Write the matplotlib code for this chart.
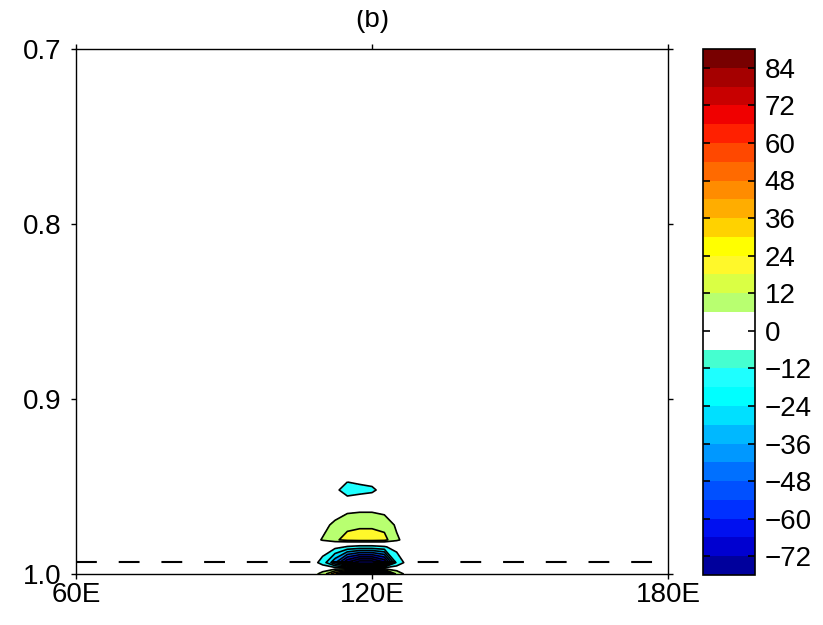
import numpy as np, matplotlib
matplotlib.use("Agg")
import matplotlib.pyplot as plt
from matplotlib.colors import ListedColormap, BoundaryNorm
from matplotlib.cm import ScalarMappable
from matplotlib.transforms import Bbox

plt.rcParams['font.family'] = ['Liberation Sans', 'DejaVu Sans']

# grid (longitude, sigma-like vertical level) and hand-read field values
LON = [105, 107.5, 110, 112.5, 115, 117.5, 120, 122.5, 125, 127.5, 130, 132.5, 135]
LEV = [0.930, 0.944, 0.952, 0.958, 0.964, 0.972, 0.9805, 0.9818, 0.9845, 0.9935, 1.0]
VAL = [
    [0, 0,   0,   0,   0,    0,    0,   0,   0, 0, 0, 0, 0],
    [0, 0,   0,   0,   0,    0,    0,   0,   0, 0, 0, 0, 0],
    [0, 0,   0,  -2, -14,  -10,   -8,  -2,   0, 0, 0, 0, 0],
    [0, 0,   0,   0,   0,    0,    0,   0,   0, 0, 0, 0, 0],
    [0, 0,   0,   0,   4,    5,    5,   3,   0, 0, 0, 0, 0],
    [0, 0,   2,   9,  15,   16,   16,  14,   4, 0, 0, 0, 0],
    [0, 0,   7,  16,  22,   24,   24,  22,   8, 0, 0, 0, 0],
    [0, 0,   2,   3,   4,    4,    4,   4,   2, 0, 0, 0, 0],
    [0, 0,   0,  -2,  -7,   -9,   -9,  -7,  -2, 0, 0, 0, 0],
    [0, 0, -10, -40, -80, -100, -100, -80, -14, 0, 0, 0, 0],
    [0, 0,  10,  40,  80,  100,  100,  80,  14, 0, 0, 0, 0],
]
DASH_LEV = 0.9934

# labelbar boxes, bottom (-78) to top (90), 6 units each
CB_COLORS = ['#00009c', '#0000d0', '#0010f0', '#0030ff', '#0050ff', '#0070ff',
             '#0098ff', '#00b8ff', '#00e0ff', '#00ffff', '#1effff', '#45ffd0',
             '#ffffff', '#ffffff',
             '#b8ff70', '#daff44', '#fff82a', '#ffff00', '#ffd200', '#ffad00',
             '#ff8c00', '#ff6a00', '#ff4800', '#ff2000', '#f00000', '#c80000',
             '#a50000', '#780000']
CB_BOUNDS = list(range(-78, 91, 6))
CB_TICKS = list(range(-72, 85, 12))
LINE_LEVELS = list(range(-90, 91, 12))

XTICKS = [60, 120, 180]; XLABELS = ['60E', '120E', '180E']
YTICKS = [0.7, 0.8, 0.9, 1.0]; YLABELS = ['0.7', '0.8', '0.9', '1.0']

FS = 20
fig = plt.figure(figsize=(8.23, 6.25), dpi=100)
ax = fig.add_axes([76/823, 1-574/625, 592/823, 525/625])

cmap = ListedColormap(CB_COLORS)
norm = BoundaryNorm(CB_BOUNDS, len(CB_COLORS))
fill_lv = [-999] + LINE_LEVELS + [999]
fill_col = []
for a in fill_lv[:-1]:
    i = int(np.clip((a + 3 - CB_BOUNDS[0]) // 6, 0, len(CB_COLORS)-1))
    fill_col.append(CB_COLORS[i])

X, Y = np.meshgrid(LON, LEV)
Z = np.array(VAL, float)
ax.contourf(X, Y, Z, levels=fill_lv, colors=fill_col)
ax.contour(X, Y, Z, levels=LINE_LEVELS, colors='k', linewidths=1.2, linestyles='solid')
ax.axhline(DASH_LEV, color='k', lw=1.5, ls=(0, (10, 10.5)))

ax.set_xlim(60, 180); ax.set_ylim(1.0, 0.7)
ax.set_xticks(XTICKS); ax.set_xticklabels(XLABELS)
ax.set_yticks(YTICKS); ax.set_yticklabels(YLABELS)
ax.tick_params(direction='out', top=True, right=True, length=3.6, width=1,
               labelsize=FS, pad=2.5)
ax.tick_params(axis='y', pad=7)
for s in ax.spines.values(): s.set_linewidth(1)

t = fig.text(372/823, 1-27/625, '(b)', ha='center', va='baseline', fontsize=FS)
t.set_clip_box(Bbox([[0, 0], [823, 625-10]])); t.set_clip_on(True)

cax = fig.add_axes([703/823, 1-575/625, 52/823, 526/625])
sm = ScalarMappable(norm=norm, cmap=cmap)
cb = fig.colorbar(sm, cax=cax, ticks=CB_TICKS)
cb.minorticks_off()
cb.ax.tick_params(direction='in', left=True, right=True, length=5, width=1.2,
                  labelsize=FS, pad=7)
cb.outline.set_linewidth(1.2)

fig.savefig("out.png", dpi=100)
